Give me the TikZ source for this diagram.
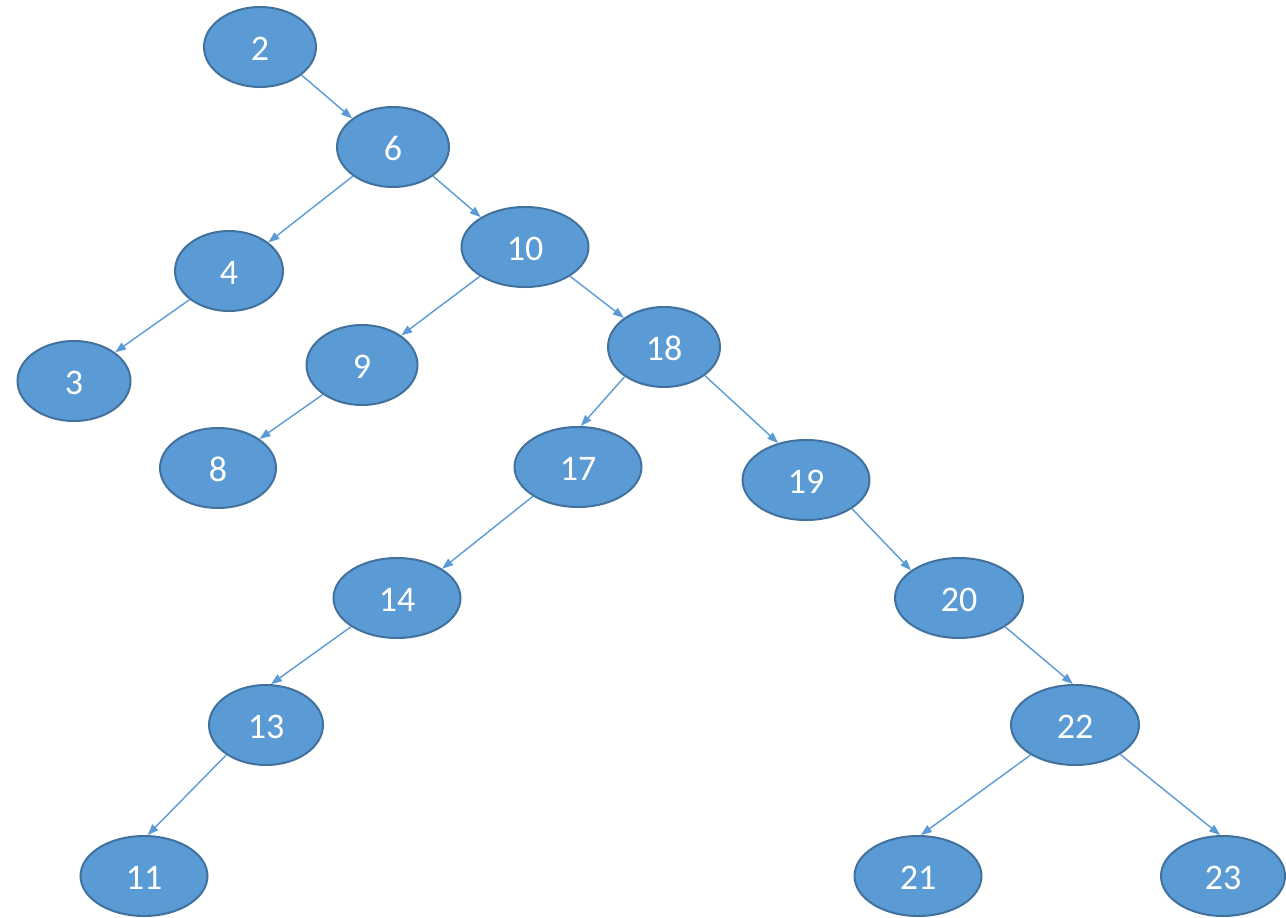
\documentclass[tikz,border=0pt]{standalone}
\usepackage{fontspec}
\setmainfont{Carlito}
\usetikzlibrary{shapes.geometric,arrows.meta}
\definecolor{nodefill}{HTML}{5B9BD5}
\definecolor{nodeedge}{HTML}{41719C}
\definecolor{edgecol}{HTML}{5B9BD5}
\tikzset{
  tnode/.style={ellipse, draw=nodeedge, fill=nodefill, line width=2pt, inner sep=0pt,
    minimum height=80pt, text=white, font=\fontsize{36}{40}\selectfont,
    text height=26pt, text depth=0pt},
  w1/.style={minimum width=112pt},
  w2/.style={minimum width=127pt},
  conn/.style={draw=edgecol, line width=1.4pt, -{Triangle[length=11pt,width=8pt]}}
}
\begin{document}
\begin{tikzpicture}[x=1pt,y=-1pt]
\useasboundingbox (0,0) rectangle (1286,918);
\node[tnode,w1] (n2)  at (260,47) {2};
\node[tnode,w1] (n6)  at (393,147) {6};
\node[tnode,w1,minimum width=108pt] (n4)  at (229,271) {4};
\node[tnode,w2] (n10) at (525,247) {10};
\node[tnode,w1,minimum width=113pt] (n3)  at (74,381) {3};
\node[tnode,w1,minimum width=111pt] (n9)  at (362,365) {9};
\node[tnode,w1] (n18) at (664,347) {18};
\node[tnode,w1,minimum width=116pt] (n8)  at (218,468) {8};
\node[tnode,w2] (n17) at (578,467) {17};
\node[tnode,w2] (n19) at (806,480) {19};
\node[tnode,w2] (n14) at (397,598) {14};
\node[tnode,w2,minimum width=128pt] (n20) at (959,598) {20};
\node[tnode,w1,minimum width=114pt] (n13) at (266,725) {13};
\node[tnode,w2,minimum width=128pt] (n22) at (1075,725) {22};
\node[tnode,w2] (n11) at (144,876) {11};
\node[tnode,w2] (n21) at (918,876) {21};
\node[tnode,w2,minimum width=124pt] (n23) at (1223,876) {23};

\draw[conn] (n2.-34)   -- (n6.145);
\draw[conn] (n6.216)   -- (n4.36);
\draw[conn] (n6.-36)   -- (n10.146);
\draw[conn] (n4.216)   -- (n3.35);
\draw[conn] (n10.213)  -- (n9.37);
\draw[conn] (n10.-33)  -- (n18.144);
\draw[conn] (n9.217)   -- (n8.35);
\draw[conn] (n18.217)  -- (n17.86);
\draw[conn] (n18.-35)  -- (n19.127);
\draw[conn] (n17.213)  -- (n14.33);
\draw[conn] (n19.-32)  -- (n20.150);
\draw[conn] (n14.212)  -- (n13.83);
\draw[conn] (n20.-32)  -- (n22.93);
\draw[conn] (n13.217)  -- (n11.85);
\draw[conn] (n22.214)  -- (n21.86);
\draw[conn] (n22.-33)  -- (n23.94);
\end{tikzpicture}
\end{document}
